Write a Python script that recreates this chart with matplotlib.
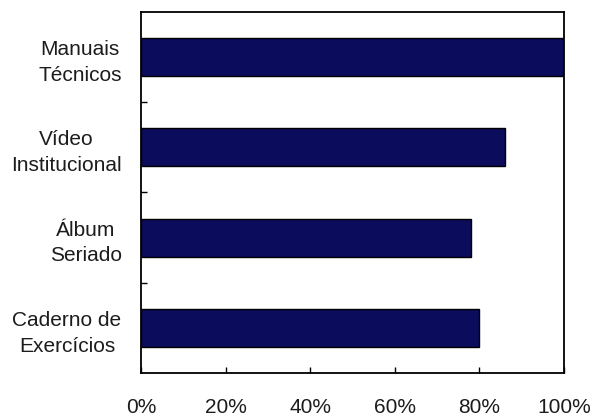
import matplotlib
matplotlib.use("Agg")
import matplotlib.pyplot as plt
import numpy as np

plt.rcParams['font.family'] = ['Liberation Sans', 'DejaVu Sans']

# categories top to bottom, share of respondents
categorias = ["Manuais\nTécnicos", "Vídeo\nInstitucional", "Álbum\nSeriado", "Caderno de\nExercícios"]
valores = [1.00, 0.86, 0.78, 0.80]
xticks = [0, 0.2, 0.4, 0.6, 0.8, 1.0]
xticklabels = ["0%", "20%", "40%", "60%", "80%", "100%"]

fig = plt.figure(figsize=(5.93, 4.16), dpi=100)
ax = fig.add_axes([0.2378, 0.1034, 0.951 - 0.2378, 0.9712 - 0.1034])

y = np.arange(len(categorias))
ax.barh(y, valores, height=0.42, color="#0c0c5c", edgecolor="black", linewidth=1.0)

ax.set_xlim(0, 1.0)
ax.set_ylim(len(categorias) - 0.5, -0.5)

ax.set_yticks(y)
ax.set_yticklabels(categorias, fontsize=15, color="#1c1c1c", multialignment="center",
                   linespacing=1.45)
ax.set_yticks(y[:-1] + 0.5, minor=True)
ax.tick_params(axis="y", which="major", length=0, pad=14)
ax.tick_params(axis="y", which="minor", direction="in", length=4, width=1)

ax.set_xticks(xticks)
ax.set_xticklabels(xticklabels, fontsize=15, color="#1c1c1c")
ax.tick_params(axis="x", direction="in", length=4, width=1, pad=18)

for s in ax.spines.values():
    s.set_linewidth(1.3)

fig.savefig("out.png", dpi=100)
